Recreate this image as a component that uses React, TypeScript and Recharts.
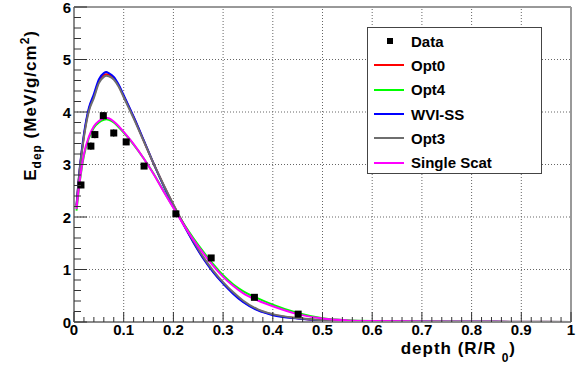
import React from "react";
import {
  ComposedChart,
  Line,
  Scatter,
  ErrorBar,
  XAxis,
  YAxis,
  ReferenceLine,
  Legend,
} from "recharts";

const FONT = "'Liberation Sans', Arial, Helvetica, sans-serif";

// depth values (R/R0) at which the simulated curves are sampled
const depthGrid = [
  0.005, 0.012, 0.02, 0.03, 0.04, 0.05, 0.06, 0.065, 0.07, 0.08, 0.09, 0.1,
  0.12, 0.14, 0.16, 0.18, 0.2, 0.22, 0.24, 0.26, 0.28, 0.3, 0.32, 0.34, 0.37,
  0.4, 0.45, 0.5, 0.55, 0.6, 0.7, 0.8, 0.9, 1.0,
];

const opt0 = [
  2.2, 2.95, 3.55, 4.05, 4.3, 4.58, 4.7, 4.72, 4.71, 4.65, 4.5, 4.3, 3.9,
  3.46, 3.02, 2.61, 2.23, 1.87, 1.53, 1.22, 0.96, 0.74, 0.55, 0.39, 0.23,
  0.14, 0.07, 0.03, 0.015, 0.01, 0.005, 0.003, 0.002, 0.001,
];
const opt4 = [
  2.12, 2.7, 3.17, 3.5, 3.7, 3.8, 3.85, 3.86, 3.85, 3.8, 3.71, 3.61, 3.38,
  3.12, 2.83, 2.5, 2.18, 1.88, 1.6, 1.34, 1.1, 0.89, 0.72, 0.59, 0.45, 0.33,
  0.17, 0.07, 0.035, 0.02, 0.01, 0.005, 0.003, 0.002,
];
const wviSS = [
  2.22, 2.97, 3.58, 4.08, 4.34, 4.62, 4.74, 4.76, 4.74, 4.67, 4.52, 4.32,
  3.91, 3.47, 3.02, 2.6, 2.22, 1.86, 1.52, 1.21, 0.95, 0.73, 0.54, 0.38,
  0.22, 0.13, 0.065, 0.03, 0.015, 0.01, 0.005, 0.003, 0.002, 0.001,
];
const opt3 = [
  2.18, 2.93, 3.52, 4.02, 4.27, 4.55, 4.67, 4.69, 4.68, 4.62, 4.48, 4.28,
  3.88, 3.45, 3.02, 2.62, 2.24, 1.88, 1.55, 1.24, 0.98, 0.76, 0.57, 0.41,
  0.24, 0.15, 0.075, 0.035, 0.018, 0.01, 0.005, 0.003, 0.002, 0.001,
];
const singleScat = [
  2.15, 2.72, 3.2, 3.53, 3.73, 3.83, 3.88, 3.89, 3.88, 3.82, 3.73, 3.62,
  3.39, 3.12, 2.82, 2.49, 2.17, 1.86, 1.57, 1.31, 1.07, 0.86, 0.69, 0.55,
  0.41, 0.3, 0.15, 0.065, 0.03, 0.018, 0.01, 0.005, 0.003, 0.002,
];

// measured data
const dataDepth = [0.014, 0.034, 0.042, 0.059, 0.08, 0.105, 0.141, 0.205, 0.276, 0.363, 0.451];
const dataEdep = [2.61, 3.35, 3.57, 3.93, 3.6, 3.43, 2.97, 2.06, 1.22, 0.47, 0.15];
const dataErr = [0.06, 0.07, 0.07, 0.07, 0.07, 0.06, 0.05, 0.04, 0.03, 0.02, 0.01];

const xTicks = [
  0, 0.02, 0.04, 0.06, 0.08, 0.1, 0.12, 0.14, 0.16, 0.18, 0.2, 0.22, 0.24,
  0.26, 0.28, 0.3, 0.32, 0.34, 0.36, 0.38, 0.4, 0.42, 0.44, 0.46, 0.48, 0.5,
  0.52, 0.54, 0.56, 0.58, 0.6, 0.62, 0.64, 0.66, 0.68, 0.7, 0.72, 0.74, 0.76,
  0.78, 0.8, 0.82, 0.84, 0.86, 0.88, 0.9, 0.92, 0.94, 0.96, 0.98, 1,
];
const yTicks = [
  0, 0.2, 0.4, 0.6, 0.8, 1, 1.2, 1.4, 1.6, 1.8, 2, 2.2, 2.4, 2.6, 2.8, 3,
  3.2, 3.4, 3.6, 3.8, 4, 4.2, 4.4, 4.6, 4.8, 5, 5.2, 5.4, 5.6, 5.8, 6,
];
const xGrid = [0.1, 0.2, 0.3, 0.4, 0.5, 0.6, 0.7, 0.8, 0.9];
const yGrid = [1, 2, 3, 4, 5];

const series = [
  { name: "Opt0", color: "#ff0000", values: opt0 },
  { name: "Opt4", color: "#00ff00", values: opt4 },
  { name: "WVI-SS", color: "#0000ff", values: wviSS },
  { name: "Opt3", color: "#6e6e6e", values: opt3 },
  { name: "Single Scat", color: "#ff00ff", values: singleScat },
];

const measured = dataDepth.map((d, i) => ({ depth: d, value: dataEdep[i], err: dataErr[i] }));

const isMajor = (v: number, step: number) =>
  Math.abs(v / step - Math.round(v / step)) < 1e-6;

const XTick = (props: any) => {
  const { x, y, payload } = props;
  const major = isMajor(payload.value, 0.1);
  return (
    <g>
      <line x1={x} y1={y} x2={x} y2={y - (major ? 10 : 5)} stroke="#333" strokeWidth={1} />
      {major && (
        <text x={x} y={y + 13} textAnchor="middle" fontFamily={FONT} fontWeight="bold" fontSize={15} fill="#000">
          {payload.value === 0 || payload.value === 1 ? payload.value : payload.value.toFixed(1)}
        </text>
      )}
    </g>
  );
};

const YTick = (props: any) => {
  const { x, y, payload } = props;
  const major = isMajor(payload.value, 1);
  return (
    <g>
      <line x1={x} y1={y} x2={x + (major ? 13 : 7)} y2={y} stroke="#333" strokeWidth={1} />
      {major && (
        <text x={x - 3} y={y + 5.5} textAnchor="end" fontFamily={FONT} fontWeight="bold" fontSize={15} fill="#000">
          {payload.value}
        </text>
      )}
    </g>
  );
};

const XTitle = (props: any) => {
  const vb = props.viewBox;
  return (
    <text x={vb.x + vb.width - 55} y={vb.y + 32} textAnchor="end" fontFamily={FONT} fontWeight="bold" fontSize={17} letterSpacing={1} fill="#000">
      depth (R/R
      <tspan dx={5} dy={8} fontSize={12}>0</tspan>
      <tspan dy={-8}>)</tspan>
    </text>
  );
};

const YTitle = () => (
  <text x={36} y={30} transform="rotate(-90 36 30)" textAnchor="end" fontFamily={FONT} fontWeight="bold" fontSize={17} letterSpacing={1} fill="#000">
    E<tspan dy={5} fontSize={12}>dep</tspan>
    <tspan dy={-5}> (MeV/g/cm</tspan>
    <tspan dy={-7} fontSize={12}>2</tspan>
    <tspan dy={7}>)</tspan>
  </text>
);

const SquareDot = (props: any) => {
  const { cx, cy } = props;
  return <rect x={cx - 3.5} y={cy - 3.5} width={7} height={7} fill="#000" />;
};

const LegendBox = () => (
  <div
    style={{
      width: 175,
      height: 147,
      boxSizing: "border-box",
      border: "1px solid #444",
      background: "#fff",
      fontFamily: FONT,
      fontWeight: "bold",
      fontSize: 15,
      paddingTop: 1,
      color: "#000",
    }}
  >
    <div style={{ height: 24.3, display: "flex", alignItems: "center" }}>
      <div style={{ width: 43, display: "flex", justifyContent: "center" }}>
        <div style={{ width: 6, height: 6, background: "#000" }} />
      </div>
      <span>Data</span>
    </div>
    {series.map((s) => (
      <div key={s.name} style={{ height: 24.3, display: "flex", alignItems: "center" }}>
        <div style={{ width: 43, position: "relative", height: 2 }}>
          <div style={{ position: "absolute", left: 6, width: 30, height: 2, background: s.color }} />
        </div>
        <span>{s.name}</span>
      </div>
    ))}
  </div>
);

export default function App() {
  return (
    <div style={{ position: "absolute", left: 0, top: 0, background: "#fff" }}>
      <ComposedChart width={582} height={365} margin={{ top: 7, right: 11, bottom: 13, left: 14 }}>
        <XAxis
          dataKey="depth"
          type="number"
          domain={[0, 1]}
          ticks={xTicks}
          interval={0}
          height={30}
          tickSize={0}
          tickMargin={0}
          tickLine={false}
          tick={<XTick />}
          axisLine={{ stroke: "#8a8a8a", strokeWidth: 2 }}
          allowDuplicatedCategory={false}
          label={{ content: <XTitle /> }}
        />
        <YAxis
          type="number"
          domain={[0, 6]}
          ticks={yTicks}
          interval={0}
          width={60}
          tickSize={0}
          tickMargin={0}
          tickLine={false}
          tick={<YTick />}
          axisLine={{ stroke: "#8a8a8a", strokeWidth: 2 }}
          label={{ content: <YTitle /> }}
        />
        {xGrid.map((v) => (
          <ReferenceLine key={`gx${v}`} x={v} stroke="#666" strokeDasharray="1 2" strokeWidth={1} />
        ))}
        {yGrid.map((v) => (
          <ReferenceLine key={`gy${v}`} y={v} stroke="#666" strokeDasharray="1 2" strokeWidth={1} />
        ))}
        <ReferenceLine y={6} stroke="#333" strokeWidth={1} />
        <ReferenceLine x={1} stroke="#999" strokeWidth={2} />
        {series.map((s) => (
          <Line
            key={s.name}
            data={depthGrid.map((d, i) => ({ depth: d, value: s.values[i] }))}
            dataKey="value"
            type="monotone"
            stroke={s.color}
            strokeWidth={2}
            dot={false}
            isAnimationActive={false}
          />
        ))}
        <Scatter data={measured} dataKey="value" shape={<SquareDot />} isAnimationActive={false}>
          <ErrorBar dataKey="err" direction="y" width={0} stroke="#000" strokeWidth={1} />
        </Scatter>
        <Legend
          layout="vertical"
          align="center"
          verticalAlign="middle"
          content={<LegendBox />}
          wrapperStyle={{ position: "absolute", left: 367, top: 27, width: 175, height: 147 }}
        />
      </ComposedChart>
    </div>
  );
}
